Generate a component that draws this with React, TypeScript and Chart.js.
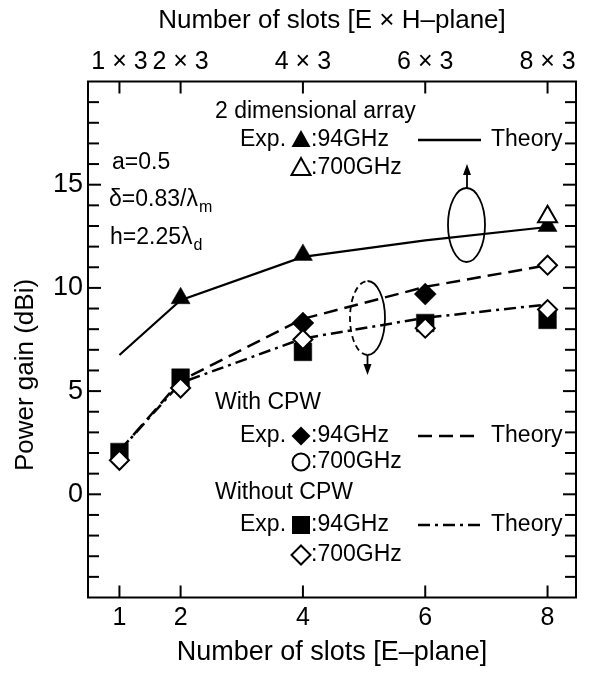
import React, { useEffect, useRef } from 'react';
import { Chart, registerables } from 'chart.js';

Chart.register(...registerables);

// ---- data ----
const xCategories = [1, 2, 4, 6, 8];
const bottomTickLabels = ['1', '2', '4', '6', '8'];
const topTickLabels = ['1 × 3', '2 × 3', '4 × 3', '6 × 3', '8 × 3'];
const yTickValues = [0, 5, 10, 15];

// theory curves (at xCategories)
const theory2D = [6.75, 9.4, 11.5, 12.3, 12.95];
const theoryWithCPW = [2.1, 5.5, 8.5, 10.05, 11.1];
const theoryWithoutCPW = [2.1, 5.4, 7.55, 8.55, 9.2];

// experiments
const exp2D94X = [2, 4, 8];
const exp2D94Y = [9.5, 11.6, 13.0];
const exp2D700X = [8];
const exp2D700Y = [13.45];
const expWith94X = [4, 6];
const expWith94Y = [8.3, 9.7];
const expWith700X = [8];
const expWith700Y = [11.1];
const expWithout94X = [1, 2, 4, 6, 8];
const expWithout94Y = [2.05, 5.65, 6.9, 8.3, 8.45];
const expWithout700X = [1, 2, 4, 6, 8];
const expWithout700Y = [1.65, 5.15, 7.5, 8.05, 8.95];

const X_MIN = 0.486;
const X_MAX = 8.465;
const Y_MIN = -5;
const Y_MAX = 20;

const FONT = "'Liberation Sans', Arial, 'DejaVu Sans', sans-serif";
const DASH = [14, 7];
const DASH_DOT = [12, 5, 3, 5];

const pts = (xs: number[], ys: number[]) => xs.map((x, i) => ({ x, y: ys[i] }));

function marker(ctx: CanvasRenderingContext2D, shape: string, cx: number, cy: number, filled: boolean) {
  ctx.save();
  ctx.beginPath();
  if (shape === 'tri') {
    ctx.moveTo(cx, cy - 10);
    ctx.lineTo(cx + 9.5, cy + 7);
    ctx.lineTo(cx - 9.5, cy + 7);
    ctx.closePath();
  } else if (shape === 'dia') {
    ctx.moveTo(cx, cy - 9.5);
    ctx.lineTo(cx + 9.5, cy);
    ctx.lineTo(cx, cy + 9.5);
    ctx.lineTo(cx - 9.5, cy);
    ctx.closePath();
  } else if (shape === 'sq') {
    ctx.rect(cx - 9, cy - 9, 18, 18);
  } else {
    ctx.arc(cx, cy, 8.5, 0, Math.PI * 2);
  }
  ctx.lineWidth = 2;
  if (filled) {
    ctx.fillStyle = '#000';
    ctx.fill();
  } else {
    ctx.fillStyle = '#fff';
    ctx.fill();
    ctx.strokeStyle = '#000';
    ctx.stroke();
  }
  ctx.restore();
}

const decorPlugin = {
  id: 'decor',
  afterDraw(chart: any) {
    const { ctx, chartArea: ca, scales } = chart;
    const xs = scales.x;
    const ys = scales.y;
    const OX = (ox: number) => ca.left + (ox - 88);
    const OY = (oy: number) => ca.top + (oy - 81.5);
    const line = (x1: number, y1: number, x2: number, y2: number) => {
      ctx.beginPath();
      ctx.moveTo(x1, y1);
      ctx.lineTo(x2, y2);
      ctx.stroke();
    };
    ctx.save();
    ctx.strokeStyle = '#000';
    ctx.fillStyle = '#000';
    ctx.lineWidth = 2;
    ctx.lineCap = 'butt';
    // frame
    ctx.strokeRect(ca.left, ca.top, ca.right - ca.left, ca.bottom - ca.top);
    // y ticks (inward), left and right
    for (let v = Y_MIN + 1; v < Y_MAX; v++) {
      const py = ys.getPixelForValue(v);
      const len = v % 5 === 0 ? 13 : 11;
      line(ca.left, py, ca.left + len, py);
      line(ca.right, py, ca.right - len, py);
    }
    // x ticks (inward), bottom and top
    for (const v of xCategories) {
      const px = xs.getPixelForValue(v);
      line(px, ca.bottom, px, ca.bottom - 12);
      line(px, ca.top, px, ca.top + 12);
    }

    // y-axis title
    ctx.save();
    ctx.translate(OX(26), OY(375));
    ctx.rotate(-Math.PI / 2);
    ctx.font = `26px ${FONT}`;
    ctx.textAlign = 'center';
    ctx.textBaseline = 'middle';
    ctx.fillText('Power gain (dBi)', 0, 0);
    ctx.restore();

    // ellipses with arrows
    ctx.lineWidth = 1.8;
    // upper (2D array, pointing up)
    ctx.beginPath();
    ctx.ellipse(OX(466.5), OY(225), 18.5, 37, 0, 0, Math.PI * 2);
    ctx.stroke();
    line(OX(467), OY(188), OX(467), OY(172));
    ctx.beginPath();
    ctx.moveTo(OX(467), OY(164));
    ctx.lineTo(OX(471), OY(175));
    ctx.lineTo(OX(463), OY(175));
    ctx.closePath();
    ctx.fill();
    // lower (pointing down), left half dashed
    ctx.beginPath();
    ctx.ellipse(OX(367.5), OY(318), 17.5, 37, 0, -Math.PI / 2, Math.PI / 2);
    ctx.stroke();
    ctx.save();
    ctx.setLineDash([6, 4]);
    ctx.beginPath();
    ctx.ellipse(OX(367.5), OY(318), 17.5, 37, 0, Math.PI / 2, (3 * Math.PI) / 2);
    ctx.stroke();
    ctx.restore();
    line(OX(367.5), OY(355), OX(367.5), OY(366));
    ctx.beginPath();
    ctx.moveTo(OX(367.5), OY(375));
    ctx.lineTo(OX(371.5), OY(364));
    ctx.lineTo(OX(363.5), OY(364));
    ctx.closePath();
    ctx.fill();

    // annotation texts
    ctx.font = `23px ${FONT}`;
    ctx.textAlign = 'left';
    ctx.textBaseline = 'middle';
    ctx.fillStyle = '#000';
    const text = (s: string, ox: number, oy: number) => ctx.fillText(s, OX(ox), OY(oy));

    text('a=0.5', 112, 163);
    const sub = (main: string, subs: string, ox: number, oy: number) => {
      ctx.font = `23px ${FONT}`;
      ctx.fillText(main, OX(ox), OY(oy));
      const w = ctx.measureText(main).width;
      ctx.font = `16px ${FONT}`;
      ctx.fillText(subs, OX(ox) + w + 1, OY(oy) + 8);
      ctx.font = `23px ${FONT}`;
    };
    sub('δ=0.83/λ', 'm', 109, 200);
    sub('h=2.25λ', 'd', 110, 238);

    const SYM_X = 301;
    const legendLine = (dash: number[], oy: number) => {
      ctx.save();
      ctx.lineWidth = 2.5;
      ctx.setLineDash(dash);
      line(OX(418), OY(oy), OX(481), OY(oy));
      ctx.restore();
    };
    const expRow = (shape: string, oy: number, dash: number[]) => {
      text('Exp.', 240, oy);
      marker(ctx, shape, OX(SYM_X), OY(oy), true);
      text(':94GHz', 311, oy);
      legendLine(dash, oy);
      text('Theory', 491, oy);
    };
    const row700 = (shape: string, oy: number) => {
      marker(ctx, shape, OX(SYM_X), OY(oy), false);
      text(':700GHz', 311, oy);
    };

    text('2 dimensional array', 215, 112);
    expRow('tri', 140, []);
    row700('tri', 168);

    text('With CPW', 215, 403);
    expRow('dia', 436, DASH);
    row700('circ', 462);

    text('Without CPW', 215, 493);
    expRow('sq', 525, DASH_DOT);
    row700('dia', 555);

    ctx.restore();
  },
};

const tickFontX = { family: FONT, size: 25, lineHeight: 1 };
const tickFontY = { family: FONT, size: 27, lineHeight: 1 };
const titleFontTop = { family: FONT, size: 26, lineHeight: 1 };
const titleFontBottom = { family: FONT, size: 27, lineHeight: 1 };

export default function App() {
  const ref = useRef<HTMLCanvasElement | null>(null);

  useEffect(() => {
    if (!ref.current) return;
    const lineDs = (data: number[], dash: number[], width: number) => ({
      type: 'line' as const,
      data: pts(xCategories, data),
      borderColor: '#000',
      borderWidth: width,
      borderDash: dash,
      pointRadius: 0,
      showLine: true,
      fill: false,
      tension: 0,
    });
    const markerDs = (xs: number[], ys: number[], style: string, radius: number, filled: boolean) => ({
      type: 'scatter' as const,
      data: pts(xs, ys),
      pointStyle: style,
      pointRadius: radius,
      pointBackgroundColor: filled ? '#000' : '#fff',
      pointBorderColor: '#000',
      pointBorderWidth: filled ? 0.5 : 2,
      showLine: false,
    });

    const chart = new Chart(ref.current, {
      type: 'scatter',
      data: {
        datasets: [
          markerDs(exp2D700X, exp2D700Y, 'triangle', 11, false),
          markerDs(exp2D94X, exp2D94Y, 'triangle', 11, true),
          markerDs(expWithout700X, expWithout700Y, 'rectRot', 9.5, false),
          markerDs(expWith700X, expWith700Y, 'rectRot', 9.5, false),
          markerDs(expWith94X, expWith94Y, 'rectRot', 11, true),
          markerDs(expWithout94X, expWithout94Y, 'rect', 12.5, true),
          lineDs(theory2D, [], 2.2),
          lineDs(theoryWithCPW, DASH, 2.5),
          lineDs(theoryWithoutCPW, DASH_DOT, 2.5),
        ] as any,
      },
      options: {
        responsive: false,
        animation: false,
        devicePixelRatio: 1,
        layout: { padding: { left: 0, right: 4, top: 0, bottom: 0 } },
        plugins: { legend: { display: false }, tooltip: { enabled: false } },
        scales: {
          x: {
            type: 'linear',
            position: 'bottom',
            min: X_MIN,
            max: X_MAX,
            afterBuildTicks: (s: any) => {
              s.ticks = xCategories.map((v) => ({ value: v }));
            },
            ticks: {
              autoSkip: false,
              maxRotation: 0,
              color: '#000',
              font: tickFontX,
              padding: 8,
              callback: (v: any) => {
                const i = xCategories.indexOf(Number(v));
                return i >= 0 ? bottomTickLabels[i] : '';
              },
            },
            grid: { display: false, drawTicks: false },
            border: { display: false },
            title: {
              display: true,
              text: 'Number of slots [E–plane]',
              color: '#000',
              font: titleFontBottom,
              padding: { top: 0, bottom: 2 },
            },
            afterFit: (s: any) => {
              s.height = 70.5;
              s.paddingLeft = 0;
              s.paddingRight = 0;
            },
          },
          x2: {
            type: 'linear',
            position: 'top',
            min: X_MIN,
            max: X_MAX,
            afterBuildTicks: (s: any) => {
              s.ticks = xCategories.map((v) => ({ value: v }));
            },
            ticks: {
              autoSkip: false,
              maxRotation: 0,
              color: '#000',
              font: tickFontX,
              padding: 7,
              callback: (v: any) => {
                const i = xCategories.indexOf(Number(v));
                return i >= 0 ? topTickLabels[i] : '';
              },
            },
            grid: { display: false, drawTicks: false },
            border: { display: false },
            title: {
              display: true,
              text: 'Number of slots [E × H–plane]',
              color: '#000',
              font: titleFontTop,
              padding: { top: 0, bottom: 0 },
            },
            afterFit: (s: any) => {
              s.height = 73.5;
              s.paddingLeft = 0;
              s.paddingRight = 0;
            },
          },
          y: {
            type: 'linear',
            position: 'left',
            min: Y_MIN,
            max: Y_MAX,
            afterBuildTicks: (s: any) => {
              s.ticks = yTickValues.map((v) => ({ value: v }));
            },
            ticks: {
              color: '#000',
              font: tickFontY,
              padding: 5,
              callback: (v: any) => String(v),
            },
            grid: { display: false, drawTicks: false },
            border: { display: false },
            afterFit: (s: any) => {
              s.width = 80;
              s.paddingTop = 0;
              s.paddingBottom = 0;
            },
          },
        },
      } as any,
      plugins: [decorPlugin],
    });
    return () => chart.destroy();
  }, []);

  return (
    <div style={{ width: 581, height: 660 }}>
      <canvas ref={ref} width={581} height={660} style={{ display: 'block', width: 581, height: 660 }} />
    </div>
  );
}
